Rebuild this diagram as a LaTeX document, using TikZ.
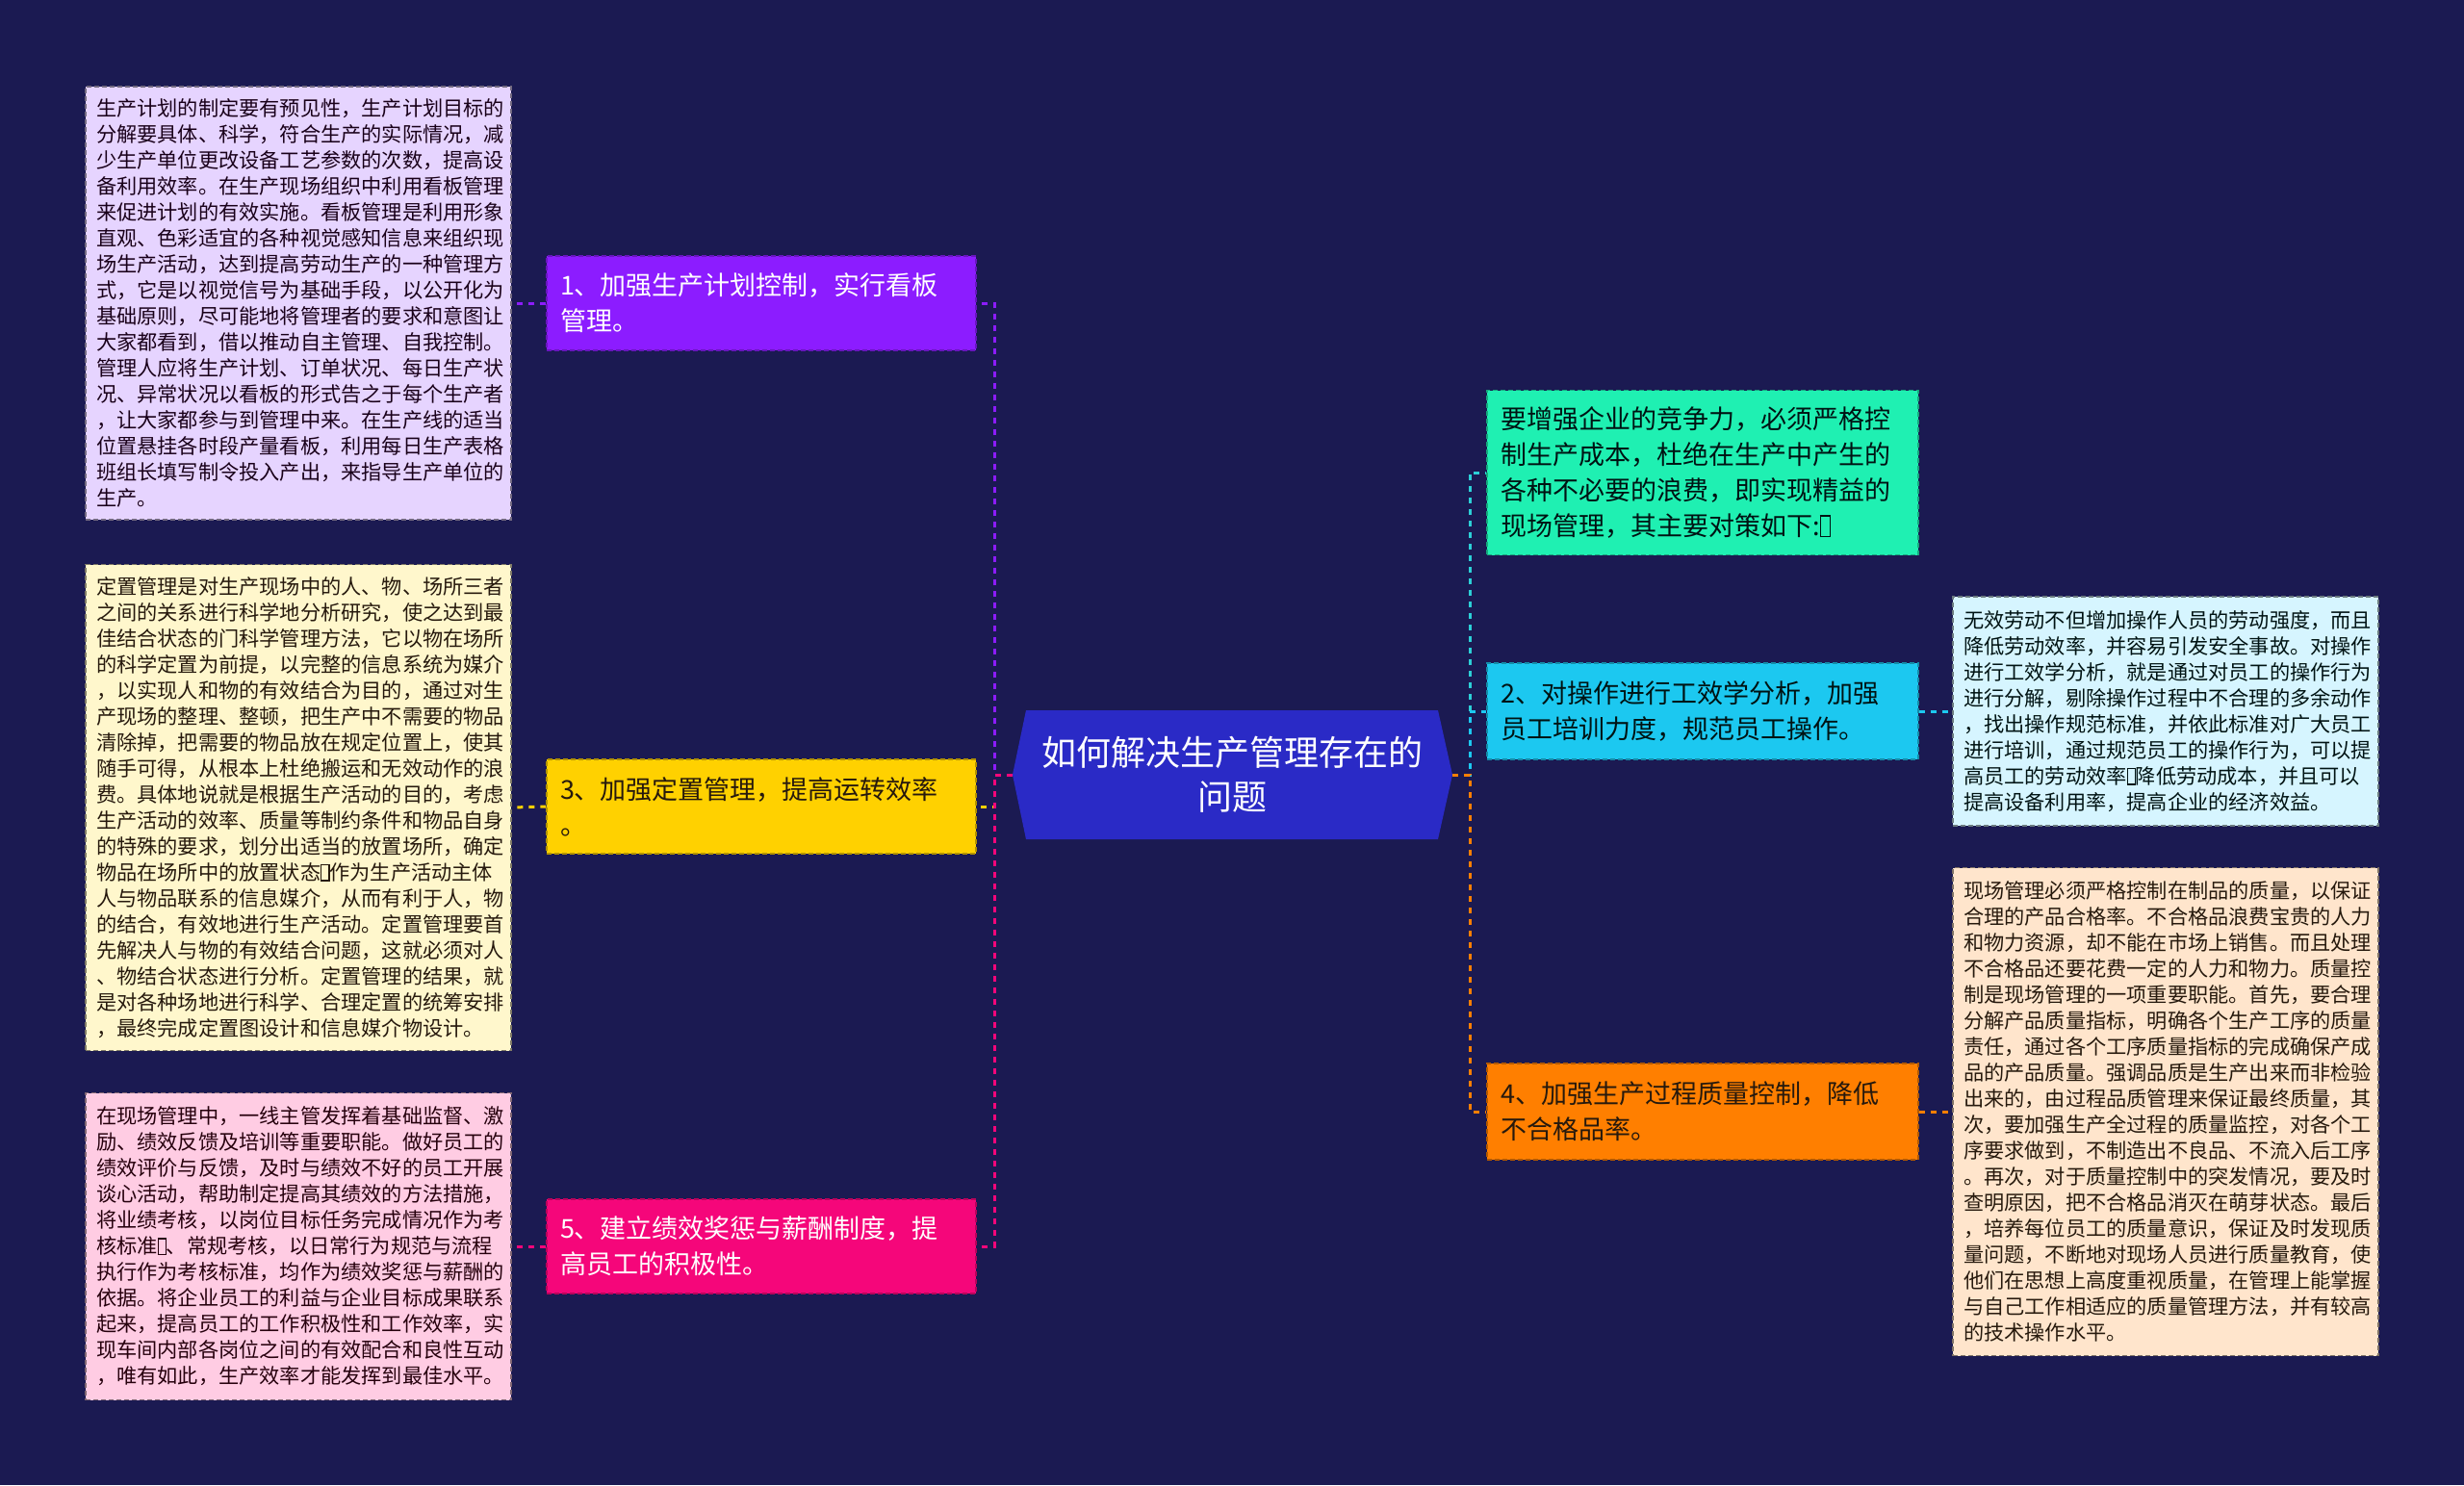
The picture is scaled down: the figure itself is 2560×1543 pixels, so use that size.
\documentclass[tikz,border=0pt]{standalone}
\usepackage{fontspec}
\setmainfont{Noto Sans CJK SC}

\definecolor{bg}{HTML}{1B1A52}
\definecolor{hubfill}{HTML}{2A2AC6}
\definecolor{cbone}{HTML}{8C1CFF}
\definecolor{cbthree}{HTML}{FFD100}
\definecolor{cbfive}{HTML}{F5067A}
\definecolor{cintro}{HTML}{1FF0B2}
\definecolor{cbtwo}{HTML}{1CC8F0}
\definecolor{cbfour}{HTML}{FF7F00}
\definecolor{linein}{HTML}{2CCFD6}
\definecolor{lone}{HTML}{E6D4FF}
\definecolor{lthree}{HTML}{FFF7CC}
\definecolor{lfive}{HTML}{FFCCE3}
\definecolor{ltwo}{HTML}{D6F5FF}
\definecolor{lfour}{HTML}{FFE5CC}

% odd glyph printed as an empty box
\newcommand{\tofu}{{\setlength{\fboxsep}{0pt}\setlength{\fboxrule}{0.06em}\fbox{\rule{0pt}{0.72em}\hspace{0.32em}}}}

\begin{document}
\begin{tikzpicture}[x=0.5pt, y=-0.5pt,
    box/.style={rectangle, draw, line width=0.6pt, dash pattern=on 2.5pt off 1.5pt, inner ysep=2pt, align=left},
    branch/.style={box, inner xsep=7pt, text width=209pt, minimum height=49pt, font=\fontsize{13.5}{18.5}\selectfont},
    leaf/.style={box, inner xsep=5.5pt, text width=210pt, font=\fontsize{10.6}{13.5}\selectfont},
    conn/.style={line width=1.5pt, dash pattern=on 3pt off 3pt}]

      % Background
      \fill[bg] (0,0) rectangle (2560,1543);

      % Centre
      \coordinate (hubL) at (1052,805);
      \coordinate (hubR) at (1509,805);
      \fill[hubfill] (1066,738) -- (1494,738) -- (hubR) -- (1494,872) -- (1066,872) -- (hubL) -- cycle;
      \node[white, align=center, inner sep=0pt, font=\fontsize{18}{23}\selectfont] (hub) at (1280,805) {如何解决生产管理存在的\\问题};

      % Branches, left
      \node[branch, fill=cbone, draw=cbone!75!black, text=white] (b1) at (791,315) {1、加强生产计划控制，实行看板\\管理。};
      \node[branch, fill=cbthree, draw=cbthree!70!black, text=black!80!brown] (b3) at (791,838) {3、加强定置管理，提高运转效率\\。};
      \node[branch, fill=cbfive, draw=cbfive!75!black, text=white] (b5) at (791,1295) {5、建立绩效奖惩与薪酬制度，提\\高员工的积极性。};

      % Branches, right
      \node[branch, text width=210pt, minimum height=85.5pt, fill=cintro, draw=cintro!70!black, text=black!85!teal] (intro) at (1769,491) {要增强企业的竞争力，必须严格控\\制生产成本，杜绝在生产中产生的\\各种不必要的浪费，即实现精益的\\现场管理，其主要对策如下:\tofu};
      \node[branch, text width=210pt, minimum height=50pt, fill=cbtwo, draw=cbtwo!70!black, text=black!85!teal] (b2) at (1769,739) {2、对操作进行工效学分析，加强\\员工培训力度，规范员工操作。};
      \node[branch, text width=210pt, minimum height=50pt, fill=cbfour, draw=cbfour!70!black, text=black!80!brown] (b4) at (1769,1155) {4、加强生产过程质量控制，降低\\不合格品率。};

      % Leaves, left
      \node[leaf, minimum height=225pt, fill=lone, draw=lone!50!black, text=black!80!violet] (l1) at (310,315) {生产计划的制定要有预见性，生产计划目标的\\分解要具体、科学，符合生产的实际情况，减\\少生产单位更改设备工艺参数的次数，提高设\\备利用效率。在生产现场组织中利用看板管理\\来促进计划的有效实施。看板管理是利用形象\\直观、色彩适宜的各种视觉感知信息来组织现\\场生产活动，达到提高劳动生产的一种管理方\\式，它是以视觉信号为基础手段，以公开化为\\基础原则，尽可能地将管理者的要求和意图让\\大家都看到，借以推动自主管理、自我控制。\\管理人应将生产计划、订单状况、每日生产状\\况、异常状况以看板的形式告之于每个生产者\\，让大家都参与到管理中来。在生产线的适当\\位置悬挂各时段产量看板，利用每日生产表格\\班组长填写制令投入产出，来指导生产单位的\\生产。};
      \node[leaf, minimum height=252.5pt, fill=lthree, draw=lthree!50!black, text=black!80!brown] (l3) at (310,839) {定置管理是对生产现场中的人、物、场所三者\\之间的关系进行科学地分析研究，使之达到最\\佳结合状态的门科学管理方法，它以物在场所\\的科学定置为前提，以完整的信息系统为媒介\\，以实现人和物的有效结合为目的，通过对生\\产现场的整理、整顿，把生产中不需要的物品\\清除掉，把需要的物品放在规定位置上，使其\\随手可得，从根本上杜绝搬运和无效动作的浪\\费。具体地说就是根据生产活动的目的，考虑\\生产活动的效率、质量等制约条件和物品自身\\的特殊的要求，划分出适当的放置场所，确定\\物品在场所中的放置状态\tofu 作为生产活动主体\\人与物品联系的信息媒介，从而有利于人，物\\的结合，有效地进行生产活动。定置管理要首\\先解决人与物的有效结合问题，这就必须对人\\、物结合状态进行分析。定置管理的结果，就\\是对各种场地进行科学、合理定置的统筹安排\\，最终完成定置图设计和信息媒介物设计。};
      \node[leaf, minimum height=159.5pt, fill=lfive, draw=lfive!50!black, text=black!80!purple] (l5) at (310,1295) {在现场管理中，一线主管发挥着基础监督、激\\励、绩效反馈及培训等重要职能。做好员工的\\绩效评价与反馈，及时与绩效不好的员工开展\\谈心活动，帮助制定提高其绩效的方法措施，\\将业绩考核，以岗位目标任务完成情况作为考\\核标准\tofu 、常规考核，以日常行为规范与流程\\执行作为考核标准，均作为绩效奖惩与薪酬的\\依据。将企业员工的利益与企业目标成果联系\\起来，提高员工的工作积极性和工作效率，实\\现车间内部各岗位之间的有效配合和良性互动\\，唯有如此，生产效率才能发挥到最佳水平。};

      % Leaves, right
      \node[leaf, minimum height=119pt, fill=ltwo, draw=ltwo!50!black, text=black!85!teal] (l2) at (2250,739) {无效劳动不但增加操作人员的劳动强度，而且\\降低劳动效率，并容易引发安全事故。对操作\\进行工效学分析，就是通过对员工的操作行为\\进行分解，剔除操作过程中不合理的多余动作\\，找出操作规范标准，并依此标准对广大员工\\进行培训，通过规范员工的操作行为，可以提\\高员工的劳动效率\tofu 降低劳动成本，并且可以\\提高设备利用率，提高企业的经济效益。};
      \node[leaf, minimum height=253.5pt, fill=lfour, draw=lfour!50!black, text=black!80!brown] (l4) at (2250,1155) {现场管理必须严格控制在制品的质量，以保证\\合理的产品合格率。不合格品浪费宝贵的人力\\和物力资源，却不能在市场上销售。而且处理\\不合格品还要花费一定的人力和物力。质量控\\制是现场管理的一项重要职能。首先，要合理\\分解产品质量指标，明确各个生产工序的质量\\责任，通过各个工序质量指标的完成确保产成\\品的产品质量。强调品质是生产出来而非检验\\出来的，由过程品质管理来保证最终质量，其\\次，要加强生产全过程的质量监控，对各个工\\序要求做到，不制造出不良品、不流入后工序\\。再次，对于质量控制中的突发情况，要及时\\查明原因，把不合格品消灭在萌芽状态。最后\\，培养每位员工的质量意识，保证及时发现质\\量问题，不断地对现场人员进行质量教育，使\\他们在思想上高度重视质量，在管理上能掌握\\与自己工作相适应的质量管理方法，并有较高\\的技术操作水平。};

      % Connectors
      \draw[conn, cbone] (hubL) -- ++(-19,0) |- (b1.east);
      \draw[conn, cbthree] (hubL) -- ++(-19,0) |- (b3.east);
      \draw[conn, cbfive] (hubL) -- ++(-19,0) |- (b5.east);
      \draw[conn, linein] (hubR) -- ++(18,0) |- (intro.west);
      \draw[conn, cbtwo] (hubR) -- ++(18,0) |- (b2.west);
      \draw[conn, cbfour] (hubR) -- ++(18,0) |- (b4.west);

      \draw[conn, cbone] (b1.west) -- (l1.east);
      \draw[conn, cbthree] (b3.west) -- (l3.east);
      \draw[conn, cbfive] (b5.west) -- (l5.east);
      \draw[conn, cbtwo] (b2.east) -- (l2.west);
      \draw[conn, cbfour] (b4.east) -- (l4.west);
    \end{tikzpicture}
\end{document}
